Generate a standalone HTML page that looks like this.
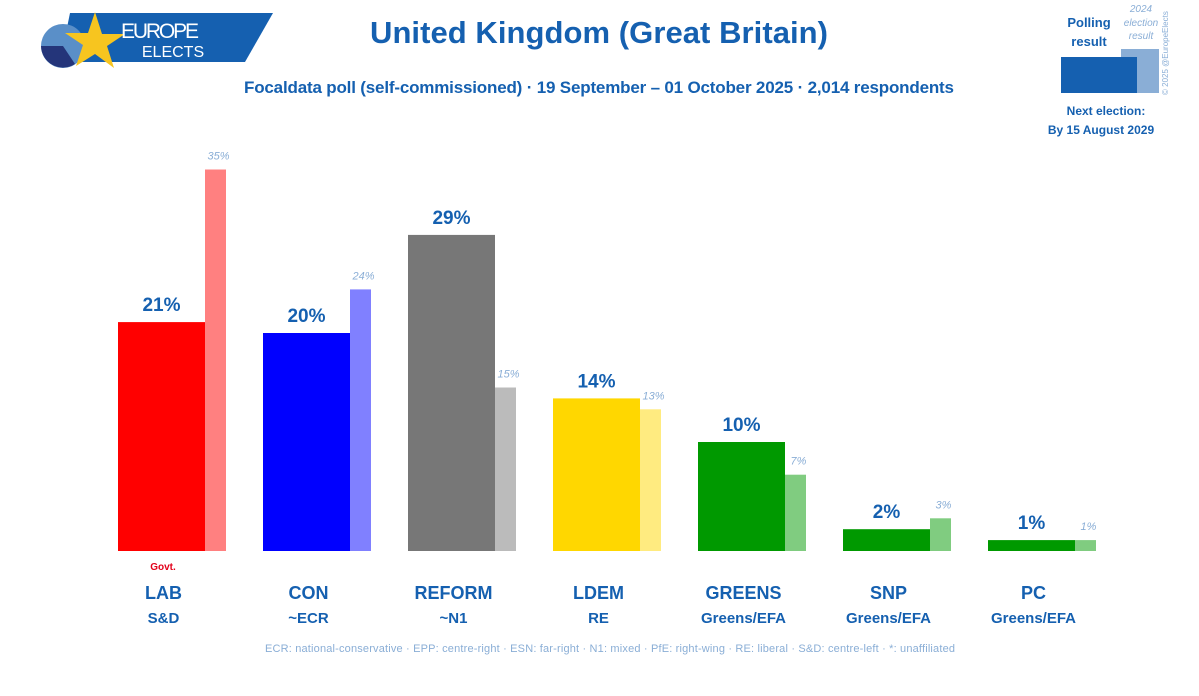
<!DOCTYPE html>
<html><head><meta charset="utf-8"><style>
body{margin:0;width:1199px;height:691px;background:#fff;overflow:hidden;font-family:"Liberation Sans",sans-serif;}
svg text{font-family:"Liberation Sans",sans-serif;}
</style></head><body>
<svg width="1199" height="691" xmlns="http://www.w3.org/2000/svg">
<g>
<polygon points="70,13 273,13 245,62 60,62" fill="#1560b0"/>
<circle cx="63" cy="46" r="22" fill="#5a8fc8"/>
<path d="M63,46 L41,46 A22,22 0 0,0 75,64 Z" fill="#24357a"/>
<polygon points="95,12 102,34 125,34 107,46 114,68 95,54 76,66 83,45 65,33 88,33" fill="#f7c51f"/>
<text x="160" y="38" font-size="21" fill="#fff" text-anchor="middle" textLength="78">EUROPE</text>
<text x="173" y="57" font-size="16" fill="#fff" text-anchor="middle">ELECTS</text>
</g>
<text x="599" y="43" font-size="31" font-weight="bold" fill="#1560b0" text-anchor="middle" textLength="458">United Kingdom (Great Britain)</text>
<text x="599" y="93" font-size="17" font-weight="bold" fill="#1560b0" text-anchor="middle" textLength="710">Focaldata poll (self-commissioned) · 19 September – 01 October 2025 · 2,014 respondents</text>
<g>
<text x="1089" y="27" font-size="13" font-weight="bold" fill="#1560b0" text-anchor="middle">Polling</text>
<text x="1089" y="46" font-size="13" font-weight="bold" fill="#1560b0" text-anchor="middle">result</text>
<text x="1141" y="12" font-size="10" font-style="italic" fill="#8aaed6" text-anchor="middle">2024</text>
<text x="1141" y="26" font-size="10" font-style="italic" fill="#8aaed6" text-anchor="middle">election</text>
<text x="1141" y="39" font-size="10" font-style="italic" fill="#8aaed6" text-anchor="middle">result</text>
<rect x="1121" y="49" width="38" height="44" fill="#8aaed6"/>
<rect x="1061" y="57" width="76" height="36" fill="#1560b0"/>
<text x="1168" y="95" font-size="8" fill="#8aaed6" transform="rotate(-90 1168 95)">© 2025 @EuropeElects</text>
<text x="1106" y="115" font-size="12" font-weight="bold" fill="#1560b0" text-anchor="middle">Next election:</text>
<text x="1101" y="134" font-size="12" font-weight="bold" fill="#1560b0" text-anchor="middle">By 15 August 2029</text>
</g>
<g id="bars"></g>
<text x="163" y="570" font-size="10" font-weight="bold" fill="#e2001a" text-anchor="middle">Govt.</text>
<text x="610" y="652" font-size="11" fill="#8aaed6" text-anchor="middle" textLength="690">ECR: national-conservative · EPP: centre-right · ESN: far-right · N1: mixed · PfE: right-wing · RE: liberal · S&amp;D: centre-left · *: unaffiliated</text>
</svg>
<script>
const parties=["LAB","CON","REFORM","LDEM","GREENS","SNP","PC"];
const groups=["S&D","~ECR","~N1","RE","Greens/EFA","Greens/EFA","Greens/EFA"];
const poll=[21,20,29,14,10,2,1];
const prev=[35,24,15,13,7,3,1];
const colors=["#ff0000","#0000ff","#777777","#ffd700","#009900","#009900","#009900"];
const light=["#ff8080","#8080ff","#bbbbbb","#ffeb80","#80cc80","#80cc80","#80cc80"];
const base=551,pxPer=10.9,x0=118,step=145,w=87,lw=21;
const y=v=>base-v*pxPer;
const g=document.getElementById('bars');
const NS="http://www.w3.org/2000/svg";
function mk(tag,a,txt){const e=document.createElementNS(NS,tag);for(const k in a)e.setAttribute(k,a[k]);if(txt!==undefined)e.textContent=txt;g.appendChild(e);return e;}
parties.forEach((p,i)=>{
 const x=x0+i*step;
 const lb=mk('rect',{x:x+w,y:y(prev[i]),width:lw,height:prev[i]*pxPer,fill:light[i]});
 
 
 const b=mk('rect',{x:x,y:y(poll[i]),width:w,height:poll[i]*pxPer,fill:colors[i]});
 
 
 const t=mk('text',{x:x+w/2,y:y(poll[i])-11,'font-size':19,'font-weight':'bold',fill:'#1560b0','text-anchor':'middle'},poll[i]+'%');
 
 
 const t2=mk('text',{x:x+w+lw/2+3,y:y(prev[i])-10,'font-size':11,'font-style':'italic',fill:'#8aaed6','text-anchor':'middle'},prev[i]+'%');
 
 
 const n=mk('text',{x:x+w/2+2,y:599,'font-size':18,'font-weight':'bold',fill:'#1560b0','text-anchor':'middle'},p);
 
 
 const gr=mk('text',{x:x+w/2+2,y:623,'font-size':15,'font-weight':'bold',fill:'#1560b0','text-anchor':'middle'},groups[i]);
 
 
});
</script>
</body></html>
